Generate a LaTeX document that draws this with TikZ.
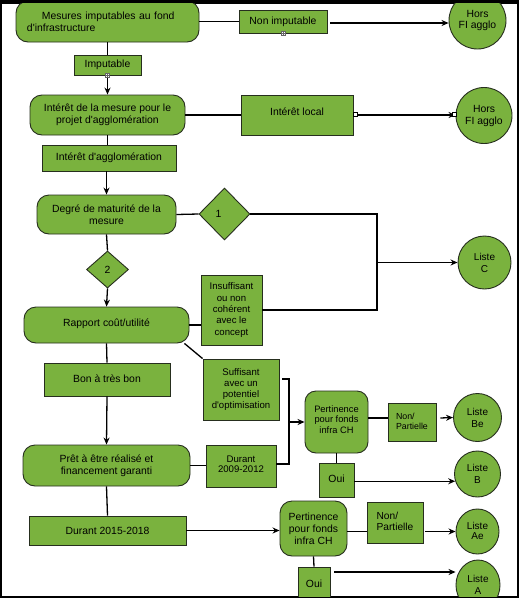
\documentclass[tikz,border=0pt]{standalone}
\usepackage{fontspec}
\setmainfont{Liberation Sans}
\usetikzlibrary{arrows.meta,shapes.geometric,calc}
\definecolor{gfill}{RGB}{122,178,62}
\definecolor{gline}{RGB}{38,46,30}
\newcommand{\ap}{\textquotesingle}
\begin{document}
\begin{tikzpicture}[x=1pt,y=-1pt,
  base/.style={draw=gline, fill=gfill, line width=0.9pt, inner sep=0pt, align=center, text=black,
    font=\fontsize{10.4}{12}\selectfont},
  rbox/.style={base, rounded corners=12pt},
  sbox/.style={base},
  circ/.style={base, circle},
  oval/.style={base, ellipse},
  dia/.style={base, diamond},
  smallf/.style={font=\fontsize{9.6}{11.3}\selectfont},
  wire/.style={line width=1.3pt, draw=black},
  arr/.style={wire, -{Stealth[length=7pt,width=6pt]}},
  widget/.style={draw=black!60, fill=white, line width=0.5pt, minimum size=4pt, inner sep=0pt},
]
\useasboundingbox (0,0) rectangle (519,598);
\fill[black] (0,0) rectangle (519,598);
\fill[white] (2,3.5) rectangle (517,596);
\begin{scope}
\clip (2,3.5) rectangle (517,596);

% ---- nodes ----
\node[rbox, minimum width=183pt, minimum height=41pt, text width=161pt, align=left] (n1) at (107.5,21.5)
  {\hspace*{15pt}Mesures imputables au fond\\d\ap infrastructure};
\node[sbox, minimum width=88pt, minimum height=23pt] (nonimp) at (283,21.5) {\raisebox{-1.5pt}{Non imputable}};
\node[circ, minimum size=57pt] (hors1) at (477.5,20.5) {\raisebox{2pt}{\shortstack{Hors\\FI agglo}}};

\node[sbox, minimum width=67pt, minimum height=20pt] (imput) at (107.5,65) {\raisebox{-4pt}{Imputable}};

\node[rbox, minimum width=155pt, minimum height=40pt] (n5) at (107.5,115)
  {Intérêt de la mesure pour le\\projet d\ap agglomération};
\node[sbox, minimum width=112pt, minimum height=40pt] (loc) at (297,115) {\raisebox{6pt}{Intérêt local}};
\node[circ, minimum size=56pt] (hors2) at (484,115.5) {Hors\\FI agglo};

\node[sbox, minimum width=134pt, minimum height=26pt] (agg) at (109,158) {Intérêt d\ap agglomération};

\node[rbox, minimum width=139pt, minimum height=39pt] (n9) at (106.5,214.5)
  {Degré de maturité de la\\mesure};
\node[dia, minimum width=51pt, minimum height=52pt] (d1) at (224.5,214) {\kern-6pt1\kern6pt};
\node[circ, minimum size=53pt, font=\fontsize{10}{12}\selectfont] (listeC) at (484.5,262.5) {Liste\\C};

\node[dia, minimum width=42pt, minimum height=37pt] (d2) at (107.5,269.5) {2};

\node[rbox, minimum width=165pt, minimum height=36pt] (n13) at (106.5,325) {\raisebox{5pt}{Rapport coût/utilité}};
\node[sbox, smallf, minimum width=61pt, minimum height=70pt] (insuf) at (231.5,310)
  {Insuffisant\\ou non\\cohérent\\avec le\\concept};
\node[sbox, smallf, minimum width=76pt, minimum height=61pt] (suff) at (241,389.5)
  {Suffisant\\avec un\\potentiel\\d\ap optimisation};

\node[sbox, minimum width=126pt, minimum height=33pt] (bon) at (107,379.5) {\raisebox{2.5pt}{Bon à très bon}};

\node[rbox, minimum width=167pt, minimum height=41pt] (n17) at (106.5,465.5)
  {Prêt à être réalisé et\\financement garanti};
\node[sbox, smallf, minimum width=70pt, minimum height=42pt] (dur1) at (241,466)
  {\raisebox{3pt}{\shortstack{Durant\\2009-2012}}};

\node[rbox, rounded corners=11pt, minimum width=63pt, minimum height=62pt,
  font=\fontsize{9.3}{11.5}\selectfont] (pert1) at (336.5,422)
  {\raisebox{4.5pt}{\shortstack{Pertinence\\pour fonds\\infra CH}}};
\node[sbox, minimum width=48pt, minimum height=38pt, font=\fontsize{8.8}{11}\selectfont] (np1) at (412,422)
  {\begin{tabular}{@{}l@{}}Non/\\[-1pt]Partielle\end{tabular}};
\node[circ, minimum size=48pt, font=\fontsize{10}{12}\selectfont] (listeBe) at (477.5,417.5) {Liste\\Be};

\node[sbox, minimum width=35pt, minimum height=34pt] (oui1) at (336.5,480) {\raisebox{3pt}{Oui}};
\node[circ, minimum size=46pt, font=\fontsize{10}{12}\selectfont] (listeB) at (477.5,474) {Liste\\B};

\node[sbox, minimum width=157pt, minimum height=29pt] (dur2) at (107.5,530.5) {Durant 2015-2018};

\node[rbox, rounded corners=12pt, minimum width=67pt, minimum height=55pt] (pert2) at (313.5,528.5)
  {Pertinence\\pour fonds\\infra CH};
\node[sbox, minimum width=56pt, minimum height=41pt, font=\fontsize{10.2}{12}\selectfont] (np2) at (395,522.5)
  {\begin{tabular}{@{}l@{}}Non/\\[-1pt]Partielle\end{tabular}};
\node[oval, minimum width=43pt, minimum height=45pt, font=\fontsize{10}{12}\selectfont] (listeAe) at (477.5,531.5)
  {\raisebox{2pt}{\shortstack{Liste\\Ae}}};

\node[sbox, minimum width=32pt, minimum height=34pt] (oui2) at (314,584) {\raisebox{1.5pt}{Oui}};
\node[oval, minimum width=44pt, minimum height=50pt, font=\fontsize{10}{12}\selectfont] (listeA) at (478,585)
  {Liste\\A};

% ---- junction coordinates ----
\coordinate (j1) at (377,214);
\coordinate (j2) at (377,310);
\coordinate (j3) at (377,262.5);
\coordinate (b1) at (289,379);
\coordinate (b2) at (289,464);
\coordinate (b3) at (289,422);
\coordinate (a1) at (334,572);

% ---- connectors ----
\draw[wire] (n1.east) -- (nonimp.west);
\draw[arr] ($(nonimp.east)+(3,1.5)$) -- ($(hors1.west)+(0,2.5)$);
\draw[wire] (n1.south) -- (imput.north);
\draw[arr] (imput.south) -- (n5.north);

\draw[wire] (n5.east) -- (loc.west);
\draw[arr] (loc.east) -- (hors2.west |- loc.east);
\draw[wire] (n5.south) -- (n5.south |- agg.north);
\draw[arr] (n9.north |- agg.south) -- (n9.north);

\draw[wire] (n9.east) -- (d1.west);
\draw[wire] (d1.east) -- (j1) -- (j2) -- (insuf.east |- j2);
\draw[arr] (j3) -- (listeC.west);
\draw[wire] (n9.south) -- (d2.north);
\draw[arr] (d2.south) -- (n13.north);

\draw[wire] (n13.east) -- (n13.east -| insuf.west);
\draw[wire] ($(n13.south east)+(-5,0)$) -- (suff.north west);
\draw[wire] (n13.south) -- (bon.north);
\draw[arr] (bon.south) -- (n17.north);

\draw[wire] (n17.east) -- (n17.east -| dur1.west);
\draw[wire] ($(suff.east)+(3,-10.5)$) -- (b1) -- (b2) -- (dur1.east |- b2);
\draw[arr] (b3) -- (pert1.west);

\draw[wire] ($(pert1.east)+(0,-4)$) -- ($(np1.west)+(0,-4)$);
\draw[arr] ($(np1.east)+(4,-4)$) -- (listeBe.west);
\draw[wire] (pert1.south) -- (oui1.north);
\draw[arr] (oui1.east |- listeB.198) -- (listeB.198);

\draw[wire] (n17.south) -- (dur2.north);
\draw[arr] (dur2.east) -- (pert2.west |- dur2.east);
\draw[wire] (pert2.east |- listeAe.west) -- (np2.west |- listeAe.west);
\draw[arr] ($(np2.east |- listeAe.west)+(2,0)$) -- (listeAe.west);
\draw[wire] (pert2.south) -- (oui2.north);
\draw[arr] (a1) -- (listeA.west |- a1);

% ---- small editor markers ----
\node[widget] (w1) at (283,33) {};
\draw[black!60, line width=0.4pt] ($(w1.west)+(0.6,0)$) -- ($(w1.east)+(-0.6,0)$) ($(w1.north)+(0,0.6)$) -- ($(w1.south)+(0,-0.6)$);
\node[widget] (w2) at (107.5,75) {};
\draw[black!60, line width=0.4pt] ($(w2.west)+(0.6,0)$) -- ($(w2.east)+(-0.6,0)$) ($(w2.north)+(0,0.6)$) -- ($(w2.south)+(0,-0.6)$);
\node[widget, draw=black] (w3) at (355.5,114.5) {};
\node[widget, draw=black] (w4) at (454,114.5) {};
\end{scope}
\end{tikzpicture}
\end{document}
